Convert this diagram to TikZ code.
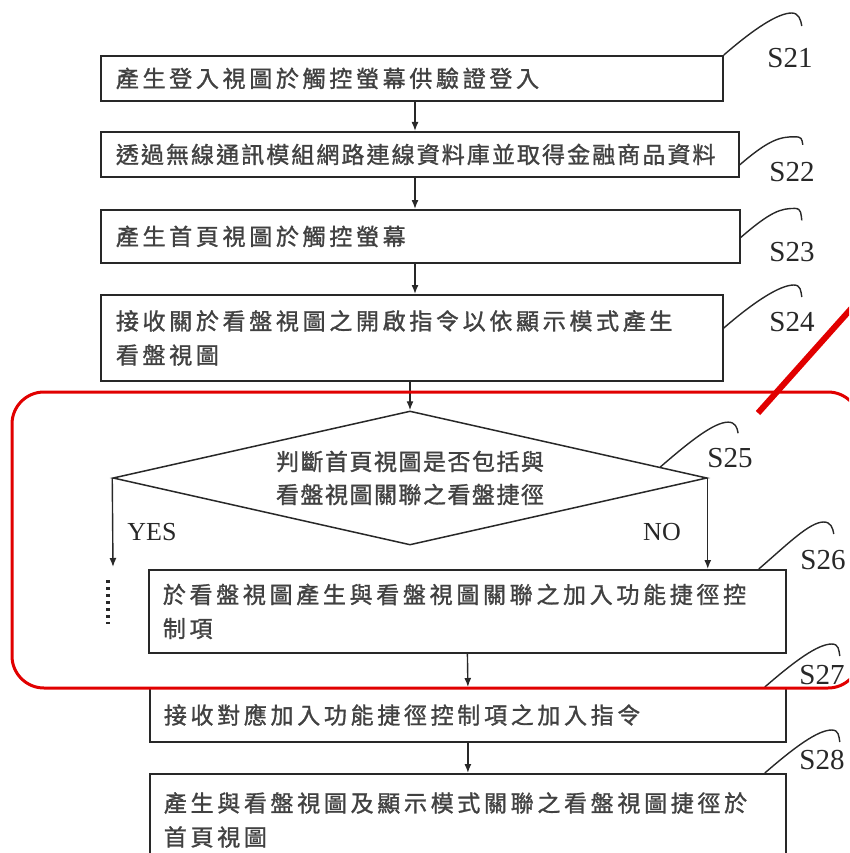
\documentclass[tikz,border=0pt]{standalone}
\usepackage{fontspec}
\setmainfont{Liberation Serif}
\newfontfamily\cjk[LetterSpace=16,FakeBold=1.2]{Noto Sans CJK TC}
\newfontfamily\cjkn[LetterSpace=9,FakeBold=1.2]{Noto Sans CJK TC}
\newfontfamily\cjkd[LetterSpace=6.5,FakeBold=1.2]{Noto Sans CJK TC}
\usetikzlibrary{shapes.geometric,arrows.meta,calc}
\definecolor{ink}{RGB}{40,40,40}
\definecolor{txt}{RGB}{65,65,65}
\definecolor{mark}{RGB}{225,0,0}
\newcommand\leadcurve[3]{\draw[lead] (#1) .. controls +(30,-26) and +(-14,0) .. ($(#1)+(#2)$) .. controls +(7,0) and +(-1,-6) .. ($(#1)+(#3)$);}
\begin{document}
\begin{tikzpicture}[x=1pt,y=-1pt,
  box/.style={draw=ink,line width=1.8pt,rectangle,inner xsep=15pt,inner ysep=0pt,
    align=left,text=txt,font=\cjk\fontsize{23}{34}\selectfont,anchor=north west},
  dia/.style={draw=ink,line width=1.5pt,diamond,shape aspect=4.4,inner sep=0pt,
    minimum width=594pt,minimum height=134pt,align=center,text=txt,
    font=\cjkd\fontsize{23}{33}\selectfont},
  lbl/.style={text=ink,font=\fontsize{29}{30}\selectfont,inner sep=0pt},
  yn/.style={text=ink,font=\fontsize{26}{28}\selectfont,inner sep=0pt},
  lead/.style={draw=ink,line width=1.4pt},
  arr/.style={draw=ink,line width=1.4pt,-{Latex[length=9pt,width=7pt]}},
  redline/.style={draw=mark}]
\useasboundingbox (0,0) rectangle (849,853);
\fill[white] (0,0) rectangle (849,853);
\clip (0,0) rectangle (849,853);

% boxes
\node[box,minimum width=622pt,minimum height=45pt,text width=592pt] (S21) at (100,55)
  {產生登入視圖於觸控螢幕供驗證登入};
\node[box,minimum width=638pt,minimum height=45pt,text width=608pt,font=\cjkn\fontsize{23}{34}\selectfont] (S22) at (100,131)
  {透過無線通訊模組網路連線資料庫並取得金融商品資料};
\node[box,minimum width=639pt,minimum height=53pt,text width=609pt] (S23) at (100,209)
  {產生首頁視圖於觸控螢幕};
\node[box,minimum width=622pt,minimum height=86pt,text width=592pt] (S24) at (100,294)
  {接收關於看盤視圖之開啟指令以依顯示模式產生\\看盤視圖};
\node[dia] (S25) at (410,478)
  {判斷首頁視圖是否包括與\\看盤視圖關聯之看盤捷徑};
\node[box,inner xsep=14pt,minimum width=637pt,minimum height=83pt,text width=609pt] (S26) at (148,569)
  {於看盤視圖產生與看盤視圖關聯之加入功能捷徑控\\制項};
\node[box,inner xsep=14pt,minimum width=636pt,minimum height=54pt,text width=608pt] (S27) at (149,687)
  {接收對應加入功能捷徑控制項之加入指令};
\node[box,inner xsep=14pt,minimum width=636pt,minimum height=92pt,text width=608pt] (S28) at (149,773)
  {產生與看盤視圖及顯示模式關聯之看盤視圖捷徑於\\首頁視圖};

% step labels
\node[lbl] (L21) at (790,58) {S21};
\node[lbl] (L22) at (792,172) {S22};
\node[lbl] (L23) at (792,252) {S23};
\node[lbl] (L24) at (792,322) {S24};
\node[lbl] (L25) at (730,458) {S25};
\node[lbl] (L26) at (823,560) {S26};
\node[lbl] (L27) at (822,675) {S27};
\node[lbl] (L28) at (822,760) {S28};

% lead curves
\coordinate (a21) at (S21.north east);
\coordinate (a22) at ($(S22.south east)+(0,-13)$);
\coordinate (a23) at ($(S23.east)+(0,1)$);
\coordinate (a24) at ($(S24.north east)+(0,34)$);
\coordinate (a25) at ($(S25.north)!0.84!(S25.east)$);
\coordinate (a26) at ($(S26.north east)+(-28,0)$);
\coordinate (a27) at ($(S27.north east)+(-22,0)$);
\coordinate (a28) at ($(S28.north east)+(-22,0)$);
\leadcurve{a21}{68,-42}{78,-29}
\leadcurve{a22}{55,-28}{63,-20}
\leadcurve{a23}{54,-29}{61,-17}
\leadcurve{a24}{70,-43}{78,-31}
\leadcurve{a25}{68,-45}{78,-34}
\leadcurve{a26}{65,-47}{75,-35}
\leadcurve{a27}{67,-43}{75,-31}
\leadcurve{a28}{67,-43}{75,-31}

% connectors
\coordinate (ax) at (415,0);
\draw[arr] (S21.south -| ax) -- (S22.north -| ax);
\draw[arr] (S22.south -| ax) -- (S23.north -| ax);
\draw[arr] (S23.south -| ax) -- (S24.north -| ax);
\draw[arr] (S24.south -| S25.north) -- (S25.north);
\coordinate (yesend) at (113,567);
\draw[arr] (S25.west) -- (yesend);
\draw[arr] (S25.east) -- (S26.north -| S25.east);
\draw[arr] (S26.south) -- (S27.north);
\draw[arr] (S27.south) -- (S28.north);
\node[yn] (yes) at (152,532) {YES};
\node[yn] (no) at (662,532) {NO};
\coordinate (d1) at (108,580);
\coordinate (d2) at (108,624);
\draw[draw=ink,line width=3.2pt,dash pattern=on 3pt off 4pt] (d1) -- (d2);

% red annotations
\draw[redline,line width=3pt,rounded corners=32pt] (12,392) rectangle (860,688);
\draw[redline,line width=6pt] (858,301) -- (758,413);
\end{tikzpicture}
\end{document}
